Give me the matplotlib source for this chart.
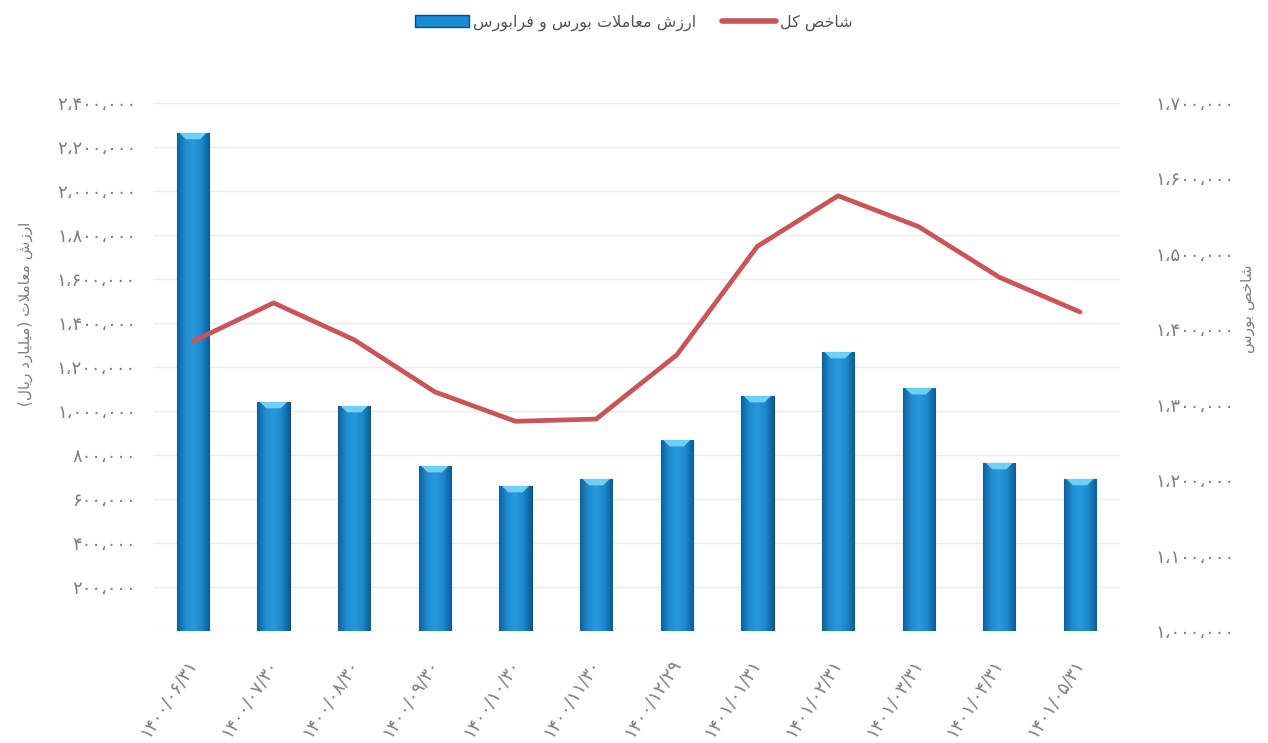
import numpy as np
import matplotlib
matplotlib.use("Agg")
import matplotlib.pyplot as plt
import matplotlib.patches as patches
from matplotlib.lines import Line2D
from matplotlib.ticker import FixedLocator, FuncFormatter

# data
dates = ["۱۴۰۰/۰۶/۳۱", "۱۴۰۰/۰۷/۳۰", "۱۴۰۰/۰۸/۳۰", "۱۴۰۰/۰۹/۳۰", "۱۴۰۰/۱۰/۳۰", "۱۴۰۰/۱۱/۳۰",
         "۱۴۰۰/۱۲/۲۹", "۱۴۰۱/۰۱/۳۱", "۱۴۰۱/۰۲/۳۱", "۱۴۰۱/۰۳/۳۱", "۱۴۰۱/۰۴/۳۱", "۱۴۰۱/۰۵/۳۱"]
trade_value = [2264000, 1041000, 1023000, 750000, 659000, 691000,
               868000, 1068000, 1268000, 1104000, 764000, 691000]
index_total = [1384000, 1435000, 1386000, 1317000, 1278000, 1281000,
               1366000, 1510000, 1577000, 1536000, 1469000, 1423000]
left_ticks = [200000, 400000, 600000, 800000, 1000000, 1200000,
              1400000, 1600000, 1800000, 2000000, 2200000, 2400000]
right_ticks = [1000000, 1100000, 1200000, 1300000, 1400000, 1500000, 1600000, 1700000]

bar_label = "ارزش معاملات بورس و فرابورس"
line_label = "شاخص کل"
left_title = "ارزش معاملات (میلیارد ریال)"
right_title = "شاخص بورس"

# --- tiny arabic/persian shaper (no reshaper lib available) ---
DUAL = {
    "ب": (0xFE8F, 0xFE90, 0xFE91, 0xFE92), "ت": (0xFE95, 0xFE96, 0xFE97, 0xFE98),
    "خ": (0xFEA5, 0xFEA6, 0xFEA7, 0xFEA8), "س": (0xFEB1, 0xFEB2, 0xFEB3, 0xFEB4),
    "ش": (0xFEB5, 0xFEB6, 0xFEB7, 0xFEB8), "ص": (0xFEB9, 0xFEBA, 0xFEBB, 0xFEBC),
    "ع": (0xFEC9, 0xFECA, 0xFECB, 0xFECC), "ف": (0xFED1, 0xFED2, 0xFED3, 0xFED4),
    "ل": (0xFEDD, 0xFEDE, 0xFEDF, 0xFEE0), "م": (0xFEE1, 0xFEE2, 0xFEE3, 0xFEE4),
    "ک": (0xFED9, 0xFEDA, 0xFEDB, 0xFEDC), "ی": (0xFEEF, 0xFEF0, 0xFEF3, 0xFEF4),
}
RIGHT = {
    "ا": (0xFE8D, 0xFE8E), "د": (0xFEA9, 0xFEAA), "ر": (0xFEAD, 0xFEAE),
    "ز": (0xFEAF, 0xFEB0), "و": (0xFEED, 0xFEEE),
}


def shape(text):
    out = []
    i = 0
    n = len(text)
    while i < n:
        ch = text[i]
        prev = text[i - 1] if i > 0 else ""
        joined_prev = prev in DUAL
        if ch == "ل" and i + 1 < n and text[i + 1] == "ا":
            out.append(chr(0xFEFC if joined_prev else 0xFEFB))
            i += 2
            continue
        nxt = text[i + 1] if i + 1 < n else ""
        joined_next = nxt in DUAL or nxt in RIGHT
        if ch in DUAL:
            iso, fin, ini, med = DUAL[ch]
            if joined_prev and joined_next:
                out.append(chr(med))
            elif joined_prev:
                out.append(chr(fin))
            elif joined_next:
                out.append(chr(ini))
            else:
                out.append(chr(iso))
        elif ch in RIGHT:
            iso, fin = RIGHT[ch]
            out.append(chr(fin if joined_prev else iso))
        else:
            out.append(ch)
        i += 1
    vis = "".join(reversed(out))
    return vis.translate(str.maketrans("()", ")("))


FA_DIGITS = str.maketrans("0123456789,", "۰۱۲۳۴۵۶۷۸۹،")


def fa_num(v, pos=None):
    return f"{int(round(v)):,}".translate(FA_DIGITS)


plt.rcParams["font.family"] = ["DejaVu Sans"]
grey = "#7f7f7f"
blue = "#1a8bd0"
red = "#c9555a"

fig = plt.figure(figsize=(12.68, 7.43), dpi=100)
ax = fig.add_axes([0.1204, 0.1507, 0.7631, 0.7107])
ax2 = ax.twinx()

x = np.arange(len(dates))
width = 0.40

# bars with a horizontal gradient clipped to each bar
grad_cols = np.array([[0.06, 0.38, 0.60], [0.12, 0.55, 0.82], [0.15, 0.60, 0.86],
                      [0.11, 0.53, 0.80], [0.05, 0.36, 0.58]])
xs = np.linspace(0, 1, len(grad_cols))
g = np.linspace(0, 1, 64)
grad = np.stack([np.interp(g, xs, grad_cols[:, k]) for k in range(3)], axis=-1)[None, :, :]

bars = ax.bar(x, trade_value, width, color=blue, edgecolor="#0b4f7e", linewidth=0.8, zorder=2)
for b in bars:
    x0, w, h = b.get_x(), b.get_width(), b.get_height()
    im = ax.imshow(grad, extent=[x0, x0 + w, 0, h], aspect="auto", zorder=2.5,
                   interpolation="bicubic")
    im.set_clip_path(b)
    cap = 2400000 * 0.012
    top = patches.Polygon([[x0 + w * 0.08, h], [x0 + w * 0.92, h],
                           [x0 + w * 0.72, h - cap], [x0 + w * 0.28, h - cap]],
                          closed=True, facecolor="#6fd0f5", edgecolor="none", zorder=3)
    ax.add_patch(top)

ax.set_xlim(-0.5, len(dates) - 0.5)
ax.set_ylim(0, 2400000)
ax.yaxis.set_major_locator(FixedLocator(left_ticks))
ax.yaxis.set_major_formatter(FuncFormatter(fa_num))
ax.grid(axis="y", color="#ebebeb", linewidth=1.0)
ax.axhline(0, color="#e3e3e3", linewidth=1.0, zorder=1)
ax.set_axisbelow(True)

ax.set_xticks(x)
ax.set_xticklabels(dates, rotation=57, ha="right", va="center", rotation_mode="anchor",
                   fontsize=13, color=grey)
ax.tick_params(axis="x", length=0, pad=21)
ax.tick_params(axis="y", length=0, pad=12, labelsize=13, labelcolor=grey)

ax2.plot(x, index_total, color=red, linewidth=3.4, solid_joinstyle="round",
         solid_capstyle="round", zorder=5)
ax2.set_ylim(1000000, 1700000)
ax2.yaxis.set_major_locator(FixedLocator(right_ticks))
ax2.yaxis.set_major_formatter(FuncFormatter(fa_num))
ax2.tick_params(axis="y", length=0, pad=25, labelsize=13, labelcolor=grey)

for a in (ax, ax2):
    for s in a.spines.values():
        s.set_visible(False)

ax.set_ylabel(shape(left_title), color=grey, fontsize=11)
ax.yaxis.set_label_coords(-0.124, 0.60)
ax2.set_ylabel(shape(right_title), color=grey, fontsize=11, rotation=90)
ax2.yaxis.set_label_coords(1.124, 0.61)

handles = [patches.Patch(facecolor=blue, edgecolor="#0b4f7e"),
           Line2D([0], [0], color=red, linewidth=4, solid_capstyle="round")]
fig.legend(handles, [shape(bar_label), shape(line_label)], loc="upper center",
           bbox_to_anchor=(0.5, 1.0), ncol=2, frameon=False, fontsize=11.5,
           labelcolor="#555555", handlelength=3.4, handletextpad=0.25, columnspacing=1.6)

fig.savefig("out.png", dpi=100, facecolor="white")
